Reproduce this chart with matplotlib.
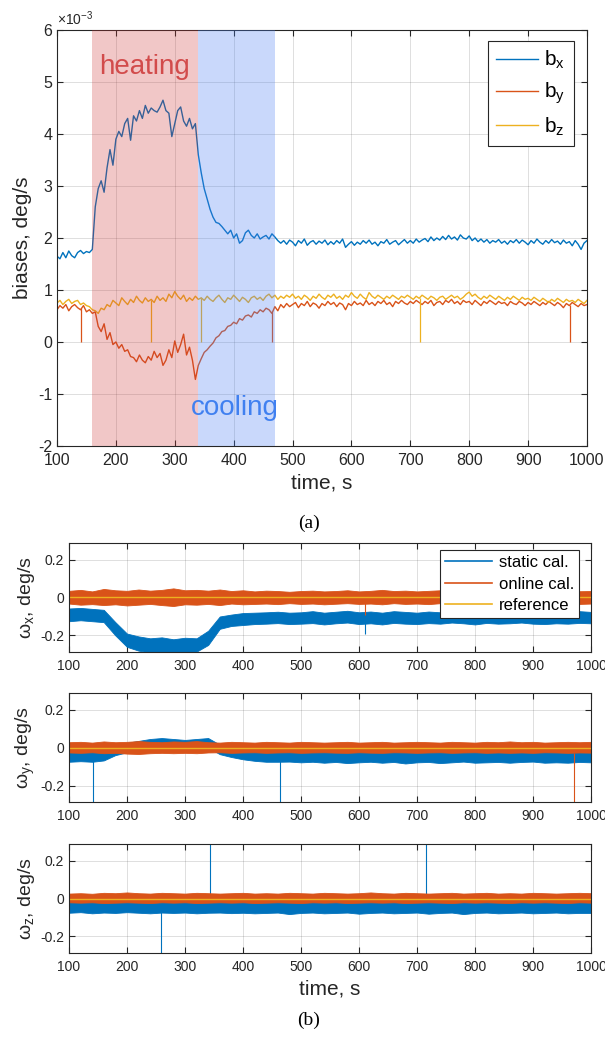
import numpy as np
import matplotlib.pyplot as plt
from matplotlib.lines import Line2D

plt.rcParams['font.family'] = ['Liberation Sans', 'DejaVu Sans']
plt.rcParams['axes.unicode_minus'] = False
plt.rcParams['mathtext.fontset'] = 'custom'
plt.rcParams['mathtext.rm'] = 'Liberation Sans'
plt.rcParams['mathtext.it'] = 'Liberation Sans:italic'
plt.rcParams['mathtext.default'] = 'regular'

# ---- panel (a): biases, x1e-3 deg/s, every 5 s from 100 to 1000 ----
t_a = np.arange(100, 1001, 5)
bx = [1.65, 1.60, 1.72, 1.62, 1.75, 1.66, 1.62, 1.72, 1.76, 1.70,
      1.74, 1.72, 1.78, 2.60, 2.95, 3.10, 2.88, 3.35, 3.70, 3.40,
      3.90, 4.05, 3.95, 4.20, 4.30, 3.88, 4.35, 4.25, 4.45, 4.30,
      4.55, 4.40, 4.50, 4.45, 4.42, 4.52, 4.65, 4.45, 4.40, 3.95,
      4.20, 4.45, 4.52, 4.25, 4.15, 4.30, 4.10, 4.20, 3.60, 3.25,
      2.95, 2.75, 2.55, 2.40, 2.30, 2.28, 2.22, 2.15, 2.08, 2.15,
      2.00, 2.08, 1.90, 1.95, 2.10, 2.15, 2.05, 2.00, 2.08, 1.98,
      2.02, 2.05, 1.98, 2.08, 2.02, 1.95, 1.90, 1.95, 1.88, 1.96,
      1.92, 1.85, 1.95, 1.90, 1.98, 1.86, 1.92, 1.95, 1.88, 1.94,
      1.90, 1.96, 1.87, 1.93, 1.88, 1.95, 1.90, 1.98, 1.82, 1.88,
      1.93, 1.86, 1.92, 1.88, 1.95, 1.90, 1.96, 1.88, 1.92, 1.85,
      1.93, 1.90, 1.97, 1.88, 1.92, 1.95, 1.87, 1.92, 1.97, 1.90,
      1.95, 1.90, 1.98, 1.92, 1.96, 1.99, 1.93, 2.02, 1.95, 2.00,
      1.96, 2.03, 1.97, 2.05, 1.98, 2.02, 1.96, 2.06, 2.00, 1.98,
      2.04, 1.95, 2.00, 1.93, 1.98, 1.92, 1.97, 1.90, 1.95, 1.92,
      1.97, 1.90, 1.94, 1.88, 1.95, 1.91, 1.97, 1.90, 1.96, 1.92,
      1.87, 1.95, 1.90, 1.98, 1.92, 1.88, 1.95, 1.90, 1.97, 1.91,
      1.94, 1.88, 1.96, 1.90, 1.93, 1.85, 1.95, 1.88, 1.78, 1.90,
      1.95]
by = [0.62, 0.70, 0.65, 0.72, 0.60, 0.68, 0.72, 0.66, 0.62, 0.70,
      0.58, 0.62, 0.55, 0.58, 0.30, 0.20, 0.35, 0.05, 0.18, -0.05,
      0.00, -0.12, -0.05, -0.18, -0.15, -0.28, -0.30, -0.38, -0.25, -0.35,
      -0.40, -0.28, -0.35, -0.18, -0.30, -0.22, -0.45, -0.35, -0.15, -0.30,
      0.02, -0.20, -0.05, 0.15, -0.25, -0.10, -0.35, -0.72, -0.45, -0.32,
      -0.20, -0.15, -0.08, -0.02, 0.08, 0.12, 0.20, 0.22, 0.30, 0.32,
      0.38, 0.35, 0.45, 0.42, 0.50, 0.52, 0.48, 0.58, 0.55, 0.62,
      0.58, 0.65, 0.62, 0.55, 0.68, 0.60, 0.72, 0.66, 0.74, 0.68,
      0.72, 0.76, 0.66, 0.74, 0.70, 0.78, 0.68, 0.75, 0.72, 0.65,
      0.74, 0.70, 0.78, 0.72, 0.76, 0.68, 0.75, 0.72, 0.62, 0.74,
      0.70, 0.78, 0.72, 0.75, 0.70, 0.80, 0.72, 0.76, 0.70, 0.78,
      0.74, 0.80, 0.72, 0.76, 0.68, 0.78, 0.74, 0.80, 0.75, 0.72,
      0.78, 0.74, 0.80, 0.76, 0.72, 0.78, 0.74, 0.80, 0.70, 0.76,
      0.78, 0.72, 0.80, 0.76, 0.82, 0.74, 0.78, 0.72, 0.80, 0.76,
      0.78, 0.72, 0.80, 0.75, 0.70, 0.78, 0.74, 0.80, 0.76, 0.72,
      0.78, 0.74, 0.76, 0.70, 0.78, 0.74, 0.72, 0.78, 0.75, 0.70,
      0.76, 0.72, 0.78, 0.74, 0.70, 0.76, 0.72, 0.78, 0.74, 0.70,
      0.76, 0.72, 0.66, 0.74, 0.70, 0.76, 0.72, 0.68, 0.74, 0.70,
      0.72]
bz = [0.75, 0.80, 0.72, 0.78, 0.82, 0.74, 0.78, 0.80, 0.72, 0.75,
      0.70, 0.68, 0.62, 0.60, 0.55, 0.65, 0.62, 0.72, 0.68, 0.80,
      0.75, 0.70, 0.85, 0.78, 0.72, 0.82, 0.76, 0.88, 0.80, 0.75,
      0.85, 0.78, 0.82, 0.76, 0.88, 0.80, 0.85, 0.78, 0.92, 0.85,
      0.97, 0.88, 0.82, 0.90, 0.78, 0.85, 0.80, 0.88, 0.82, 0.85,
      0.80, 0.88, 0.82, 0.78, 0.85, 0.90, 0.82, 0.76, 0.85, 0.82,
      0.90, 0.84, 0.78, 0.86, 0.82, 0.76, 0.85, 0.88, 0.82, 0.86,
      0.80, 0.88, 0.92, 0.85, 0.90, 0.82, 0.88, 0.84, 0.90, 0.86,
      0.92, 0.84, 0.88, 0.82, 0.90, 0.86, 0.80, 0.88, 0.84, 0.92,
      0.86, 0.82, 0.90, 0.86, 0.92, 0.84, 0.88, 0.82, 0.90, 0.86,
      0.95, 0.88, 0.84, 0.92, 0.86, 0.82, 0.95, 0.88, 0.84, 0.90,
      0.86, 0.82, 0.88, 0.84, 0.90, 0.86, 0.82, 0.88, 0.85, 0.90,
      0.86, 0.82, 0.88, 0.84, 0.90, 0.86, 0.82, 0.88, 0.85, 0.80,
      0.86, 0.88, 0.82, 0.86, 0.90, 0.85, 0.88, 0.82, 0.86, 0.92,
      0.96, 0.88, 0.92, 0.86, 0.82, 0.88, 0.84, 0.90, 0.86, 0.82,
      0.88, 0.84, 0.80, 0.86, 0.82, 0.88, 0.84, 0.80, 0.86, 0.82,
      0.84, 0.80, 0.86, 0.82, 0.78, 0.84, 0.80, 0.76, 0.82, 0.78,
      0.84, 0.80, 0.76, 0.82, 0.78, 0.80, 0.76, 0.82, 0.78, 0.74,
      0.80]
# single-sample drop-outs (time, level before drop), drop goes to 0
by_spike_t = [141, 465, 971]
by_spike_y = [0.66, 0.58, 0.72]
bz_spike_t = [260, 345, 716]
bz_spike_y = [0.80, 0.85, 0.84]

# ---- panel (b): angular rate errors, deg/s, envelopes every 20 s ----
t_b = np.arange(100, 1001, 20)
wx_static_hi = [-0.058, -0.055, -0.060, -0.065, -0.130, -0.190, -0.205, -0.215, -0.210, -0.220,
                -0.212, -0.215, -0.175, -0.100, -0.090, -0.082, -0.080, -0.078, -0.075, -0.080,
                -0.078, -0.072, -0.080, -0.075, -0.070, -0.078, -0.074, -0.080, -0.072, -0.076,
                -0.080, -0.074, -0.078, -0.070, -0.076, -0.080, -0.072, -0.078, -0.074, -0.070,
                -0.076, -0.080, -0.074, -0.078, -0.072, -0.076]
wx_static_lo = [-0.125, -0.120, -0.125, -0.130, -0.200, -0.260, -0.280, -0.290, -0.290, -0.295,
                -0.285, -0.285, -0.250, -0.165, -0.150, -0.145, -0.140, -0.138, -0.135, -0.140,
                -0.138, -0.135, -0.142, -0.136, -0.132, -0.140, -0.136, -0.142, -0.134, -0.138,
                -0.140, -0.135, -0.138, -0.132, -0.136, -0.142, -0.134, -0.138, -0.136, -0.132,
                -0.138, -0.140, -0.136, -0.138, -0.134, -0.136]
wx_online_hi = [0.035, 0.040, 0.032, 0.045, 0.038, 0.035, 0.042, 0.036, 0.040, 0.048,
                0.038, 0.040, 0.036, 0.042, 0.034, 0.038, 0.032, 0.036, 0.034, 0.030,
                0.034, 0.036, 0.032, 0.034, 0.038, 0.032, 0.035, 0.040, 0.034, 0.036,
                0.032, 0.035, 0.038, 0.034, 0.030, 0.035, 0.033, 0.036, 0.032, 0.035,
                0.038, 0.034, 0.032, 0.035, 0.033, 0.034]
wx_online_lo = [-0.032, -0.038, -0.035, -0.040, -0.036, -0.042, -0.038, -0.034, -0.040, -0.045,
                -0.036, -0.038, -0.034, -0.040, -0.032, -0.036, -0.034, -0.032, -0.035, -0.030,
                -0.034, -0.032, -0.036, -0.033, -0.030, -0.034, -0.032, -0.036, -0.030, -0.034,
                -0.032, -0.035, -0.030, -0.034, -0.032, -0.036, -0.030, -0.034, -0.032, -0.030,
                -0.034, -0.032, -0.036, -0.030, -0.034, -0.032]
wx_static_spk_t = [611]
wx_static_spk_y = [-0.12, -0.19]
wx_online_spk_t = [611]
wx_online_spk_y = [0.0, -0.09]

wy_static_hi = [-0.015, -0.012, -0.015, -0.010, 0.010, 0.025, 0.035, 0.045, 0.050, 0.045,
                0.040, 0.045, 0.050, 0.015, 0.000, -0.008, -0.012, -0.015, -0.015, -0.014,
                -0.015, -0.012, -0.016, -0.014, -0.018, -0.015, -0.012, -0.016, -0.014, -0.018,
                -0.015, -0.013, -0.016, -0.014, -0.012, -0.016, -0.015, -0.013, -0.016, -0.014,
                -0.012, -0.016, -0.014, -0.015, -0.013, -0.015]
wy_static_lo = [-0.075, -0.072, -0.075, -0.068, -0.040, -0.025, -0.015, -0.005, 0.000, -0.005,
                -0.010, -0.005, 0.000, -0.035, -0.050, -0.062, -0.070, -0.075, -0.075, -0.074,
                -0.078, -0.075, -0.080, -0.076, -0.082, -0.078, -0.075, -0.080, -0.076, -0.084,
                -0.078, -0.076, -0.082, -0.078, -0.074, -0.080, -0.078, -0.076, -0.080, -0.076,
                -0.074, -0.080, -0.078, -0.080, -0.076, -0.078]
wy_online_hi = [0.028, 0.030, 0.026, 0.032, 0.028, 0.030, 0.034, 0.030, 0.028, 0.032,
                0.030, 0.034, 0.028, 0.026, 0.030, 0.028, 0.026, 0.030, 0.028, 0.026,
                0.030, 0.028, 0.026, 0.028, 0.030, 0.026, 0.028, 0.030, 0.026, 0.028,
                0.030, 0.028, 0.026, 0.030, 0.028, 0.026, 0.030, 0.028, 0.032, 0.028,
                0.030, 0.026, 0.028, 0.030, 0.028, 0.030]
wy_online_lo = [-0.026, -0.028, -0.025, -0.030, -0.028, -0.032, -0.034, -0.030, -0.028, -0.030,
                -0.028, -0.030, -0.026, -0.025, -0.028, -0.026, -0.025, -0.028, -0.026, -0.025,
                -0.028, -0.026, -0.025, -0.027, -0.028, -0.025, -0.027, -0.028, -0.025, -0.026,
                -0.028, -0.026, -0.025, -0.028, -0.026, -0.025, -0.028, -0.026, -0.028, -0.026,
                -0.028, -0.025, -0.026, -0.028, -0.026, -0.027]
wy_static_spk_t = [141, 464]
wy_static_spk_y = [-0.07, -0.30]
wy_online_spk_t = [971]
wy_online_spk_y = [-0.03, -0.30]

wz_static_hi = [-0.014, -0.012, -0.016, -0.012, -0.014, -0.010, -0.012, -0.015, -0.012, -0.014,
                -0.012, -0.015, -0.013, -0.012, -0.014, -0.012, -0.015, -0.013, -0.012, -0.015,
                -0.013, -0.012, -0.015, -0.014, -0.012, -0.016, -0.013, -0.012, -0.015, -0.013,
                -0.012, -0.015, -0.013, -0.012, -0.016, -0.013, -0.012, -0.015, -0.013, -0.012,
                -0.015, -0.013, -0.012, -0.015, -0.013, -0.014]
wz_static_lo = [-0.075, -0.072, -0.078, -0.074, -0.076, -0.072, -0.075, -0.078, -0.074, -0.076,
                -0.074, -0.078, -0.075, -0.074, -0.077, -0.075, -0.078, -0.076, -0.074, -0.082,
                -0.076, -0.074, -0.078, -0.076, -0.074, -0.080, -0.076, -0.074, -0.078, -0.076,
                -0.074, -0.080, -0.076, -0.074, -0.082, -0.076, -0.074, -0.078, -0.076, -0.074,
                -0.078, -0.076, -0.074, -0.078, -0.076, -0.076]
wz_online_hi = [0.026, 0.028, 0.025, 0.030, 0.028, 0.032, 0.028, 0.026, 0.030, 0.028,
                0.026, 0.030, 0.028, 0.026, 0.028, 0.030, 0.026, 0.028, 0.026, 0.030,
                0.028, 0.026, 0.030, 0.028, 0.026, 0.028, 0.032, 0.028, 0.026, 0.030,
                0.028, 0.026, 0.028, 0.030, 0.026, 0.028, 0.030, 0.026, 0.028, 0.026,
                0.030, 0.028, 0.026, 0.028, 0.030, 0.028]
wz_online_lo = [-0.020, -0.022, -0.020, -0.024, -0.022, -0.020, -0.022, -0.024, -0.020, -0.022,
                -0.020, -0.024, -0.022, -0.020, -0.022, -0.020, -0.024, -0.022, -0.020, -0.022,
                -0.024, -0.020, -0.022, -0.020, -0.024, -0.022, -0.020, -0.022, -0.020, -0.024,
                -0.022, -0.020, -0.022, -0.024, -0.020, -0.022, -0.020, -0.022, -0.024, -0.020,
                -0.022, -0.020, -0.022, -0.024, -0.020, -0.022]
wz_static_spk_t = [259, 344, 716]
wz_static_spk_lo = [-0.30, -0.02, -0.02]
wz_static_spk_hi = [-0.07, 0.30, 0.30]

BLUE = '#0072BD'
ORANGE = '#D95319'
YELLOW = '#EDB120'
AX_COL = '#262626'


def matlab_axes(ax, fs):
    for s in ax.spines.values():
        s.set_color(AX_COL)
        s.set_linewidth(0.8)
    ax.tick_params(direction='in', top=True, right=True, length=4, width=0.8,
                   colors=AX_COL, labelsize=fs, labelcolor=AX_COL)
    ax.tick_params(axis='x', pad=5)
    ax.grid(True, color=AX_COL, alpha=0.15, lw=0.7)
    ax.set_axisbelow(True)


fig = plt.figure(figsize=(6.05, 10.42), dpi=100)

# ---------------- (a) ----------------
ax = fig.add_axes([0.0942, 0.572, 0.876, 0.3992])
ax.plot(t_a, bx, color=BLUE, lw=1.0, label=r'b$_\mathregular{x}$', zorder=2)
ax.plot(t_a, by, color=ORANGE, lw=1.0, label=r'b$_\mathregular{y}$', zorder=2)
ax.plot(t_a, bz, color=YELLOW, lw=1.0, label=r'b$_\mathregular{z}$', zorder=2)
ax.vlines(by_spike_t, 0, by_spike_y, color=ORANGE, lw=0.9, zorder=2)
ax.vlines(bz_spike_t, 0, bz_spike_y, color=YELLOW, lw=0.9, zorder=2)
ax.axvspan(160, 340, color=(0.8, 0.2, 0.2), alpha=0.27, lw=0, zorder=3)
ax.axvspan(340, 470, color=(0.3, 0.5, 0.95), alpha=0.3, lw=0, zorder=3)
ax.text(249, 5.28, 'heating', color='#D24B4B', fontsize=20, ha='center', va='center', zorder=4)
ax.text(402, -1.27, 'cooling', color='#4080F0', fontsize=20, ha='center', va='center', zorder=4)
ax.set_xlim(100, 1000)
ax.set_ylim(-2, 6)
ax.set_xticks(np.arange(100, 1001, 100))
ax.set_yticks(np.arange(-2, 7))
matlab_axes(ax, 11.5)
ax.text(0.0, 1.006, r'$\times$10$^{-3}$', transform=ax.transAxes, fontsize=10,
        color=AX_COL, ha='left', va='bottom')
ax.set_xlabel('time, s', fontsize=15, color=AX_COL)
ax.set_ylabel('biases, deg/s', fontsize=15, color=AX_COL)
leg = ax.legend(loc='upper right', bbox_to_anchor=(0.975, 0.974), borderaxespad=0,
                fontsize=15, handlelength=2.0, handletextpad=0.3, labelspacing=0.45,
                fancybox=False, edgecolor=AX_COL, framealpha=1)
leg.get_frame().set_linewidth(0.8)
fig.text(0.51, 1 - 523 / 1042, '(a)', family='Liberation Serif', fontsize=14,
         ha='center', va='center')

# ---------------- (b) ----------------
rows = [
    (0.3743, r'$\omega_x$, deg/s', wx_static_lo, wx_static_hi, wx_online_lo, wx_online_hi),
    (0.2303, r'$\omega_y$, deg/s', wy_static_lo, wy_static_hi, wy_online_lo, wy_online_hi),
    (0.0854, r'$\omega_z$, deg/s', wz_static_lo, wz_static_hi, wz_online_lo, wz_online_hi),
]
axes_b = []
for bottom, lab, slo, shi, olo, ohi in rows:
    a = fig.add_axes([0.114, bottom, 0.8628, 0.1046])
    a.fill_between(t_b, slo, shi, color=BLUE, lw=0.6, zorder=2)
    a.fill_between(t_b, olo, ohi, color=ORANGE, lw=0.6, zorder=2.1)
    a.axhline(0, color=YELLOW, lw=1.0, zorder=2.5)
    a.set_xlim(100, 1000)
    a.set_ylim(-0.287, 0.287)
    a.set_xticks(np.arange(100, 1001, 100))
    a.set_yticks([-0.2, 0, 0.2])
    a.set_yticklabels(['-0.2', '0', '0.2'])
    matlab_axes(a, 10)
    a.set_ylabel(lab, fontsize=14, color=AX_COL, labelpad=2)
    axes_b.append(a)

a1, a2, a3 = axes_b
a1.vlines(wx_static_spk_t, wx_static_spk_y[0], wx_static_spk_y[1], color=BLUE, lw=0.8, zorder=2)
a1.vlines(wx_online_spk_t, wx_online_spk_y[0], wx_online_spk_y[1], color=ORANGE, lw=0.8, zorder=2.2)
a2.vlines(wy_static_spk_t, wy_static_spk_y[0], wy_static_spk_y[1], color=BLUE, lw=0.8, zorder=2)
a2.vlines(wy_online_spk_t, wy_online_spk_y[0], wy_online_spk_y[1], color=ORANGE, lw=0.8, zorder=2.2)
a3.vlines(wz_static_spk_t, wz_static_spk_lo, wz_static_spk_hi, color=BLUE, lw=0.8, zorder=2)
a3.set_xlabel('time, s', fontsize=15, color=AX_COL)

handles = [Line2D([], [], color=BLUE, lw=1.2), Line2D([], [], color=ORANGE, lw=1.2),
           Line2D([], [], color=YELLOW, lw=1.2)]
leg = a1.legend(handles, ['static cal.', 'online cal.', 'reference'], loc='upper right',
                bbox_to_anchor=(0.977, 0.936), borderaxespad=0, fontsize=12,
                handlelength=2.8, handletextpad=0.4, labelspacing=0.4, fancybox=False,
                edgecolor=AX_COL, framealpha=1, borderpad=0.3)
leg.get_frame().set_linewidth(0.8)
leg.set_zorder(5)
fig.text(0.51, 1 - 1020 / 1042, '(b)', family='Liberation Serif', fontsize=14,
         ha='center', va='center')

fig.savefig('out.png', dpi=100)
